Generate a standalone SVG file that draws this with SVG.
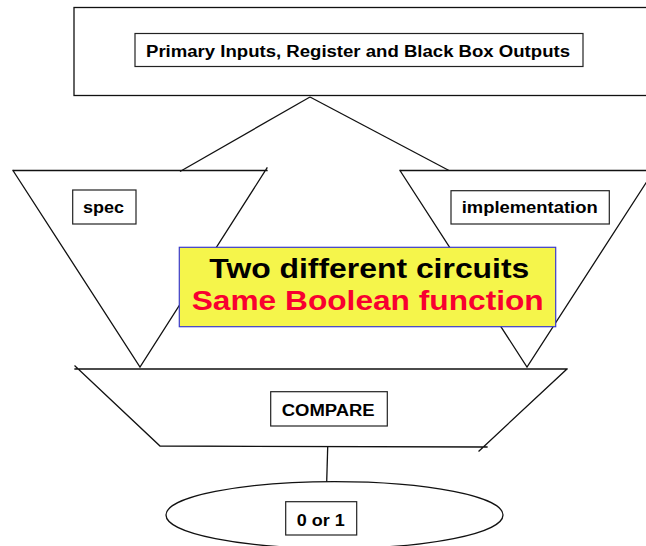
<svg xmlns="http://www.w3.org/2000/svg" width="646" height="546" viewBox="0 0 646 546">
  <style>
    .shape { fill: none; stroke: #111; stroke-width: 1.3; stroke-linecap: square; }
    .tag { fill: #fff; stroke: #222; stroke-width: 1.2; }
    .lbl { font-family: "Liberation Sans", Arial, sans-serif; font-weight: bold; font-size: 16px; fill: #000; }
    .big { font-family: "Liberation Sans", Arial, sans-serif; font-weight: bold; font-size: 28px; }
    .wire { fill: none; stroke: #111; stroke-width: 1.3; }
  </style>
  <rect x="0" y="0" width="646" height="546" fill="#fff"/>

  <!-- connectors -->
  <g id="connectors">
    <path class="wire" d="M310,97 L180,171.5"/>
    <path class="wire" d="M310,97 L449,170.5"/>
    <path class="wire" d="M327.7,447 L326.7,481.7"/>
  </g>

  <!-- source block -->
  <g id="inputs">
    <rect class="shape" x="74" y="7.5" width="600" height="88"/>
    <rect class="tag" x="135" y="33.5" width="448" height="33"/>
    <text class="lbl" x="146" y="56.5" textLength="424" lengthAdjust="spacingAndGlyphs">Primary Inputs, Register and Black Box Outputs</text>
  </g>

  <!-- spec cone -->
  <g id="spec">
    <path class="shape" d="M13,170.5 L267,170.5 M13,170.5 L140,367 L267,168"/>
    <rect class="tag" x="72.7" y="190" width="63.3" height="34"/>
    <text class="lbl" x="83" y="212.5" textLength="41" lengthAdjust="spacingAndGlyphs">spec</text>
  </g>

  <!-- implementation cone -->
  <g id="implementation">
    <path class="shape" d="M400,170.5 L654,170.5 M400,170.5 L527,367 L654,170.5"/>
    <rect class="tag" x="451" y="190.7" width="158.3" height="33.3"/>
    <text class="lbl" x="461.7" y="213.3" textLength="136" lengthAdjust="spacingAndGlyphs">implementation</text>
  </g>

  <!-- comparator -->
  <g id="compare">
    <path class="shape" d="M75,369 L567,369 M75,366 L160,446 L487,447 M567,369 L479,451"/>
    <rect class="tag" x="270.7" y="391.7" width="116.6" height="34.3"/>
    <text class="lbl" x="281.7" y="415.7" textLength="93" lengthAdjust="spacingAndGlyphs">COMPARE</text>
  </g>

  <!-- result -->
  <g id="result">
    <ellipse class="shape" cx="334.5" cy="515" rx="168.5" ry="33.4"/>
    <rect class="tag" x="285.7" y="501.7" width="71" height="33.3"/>
    <text class="lbl" x="296.7" y="526" textLength="48" lengthAdjust="spacingAndGlyphs">0 or 1</text>
  </g>

  <!-- callout -->
  <g id="note">
    <rect x="179.3" y="247.3" width="376.4" height="79.4" fill="#f5f54b" stroke="#3a3acc" stroke-width="1.2"/>
    <text class="big" x="209.3" y="278.3" fill="#000" textLength="320" lengthAdjust="spacingAndGlyphs">Two different circuits</text>
    <text class="big" x="191.7" y="310" fill="#f80030" textLength="352" lengthAdjust="spacingAndGlyphs">Same Boolean function</text>
  </g>
</svg>
